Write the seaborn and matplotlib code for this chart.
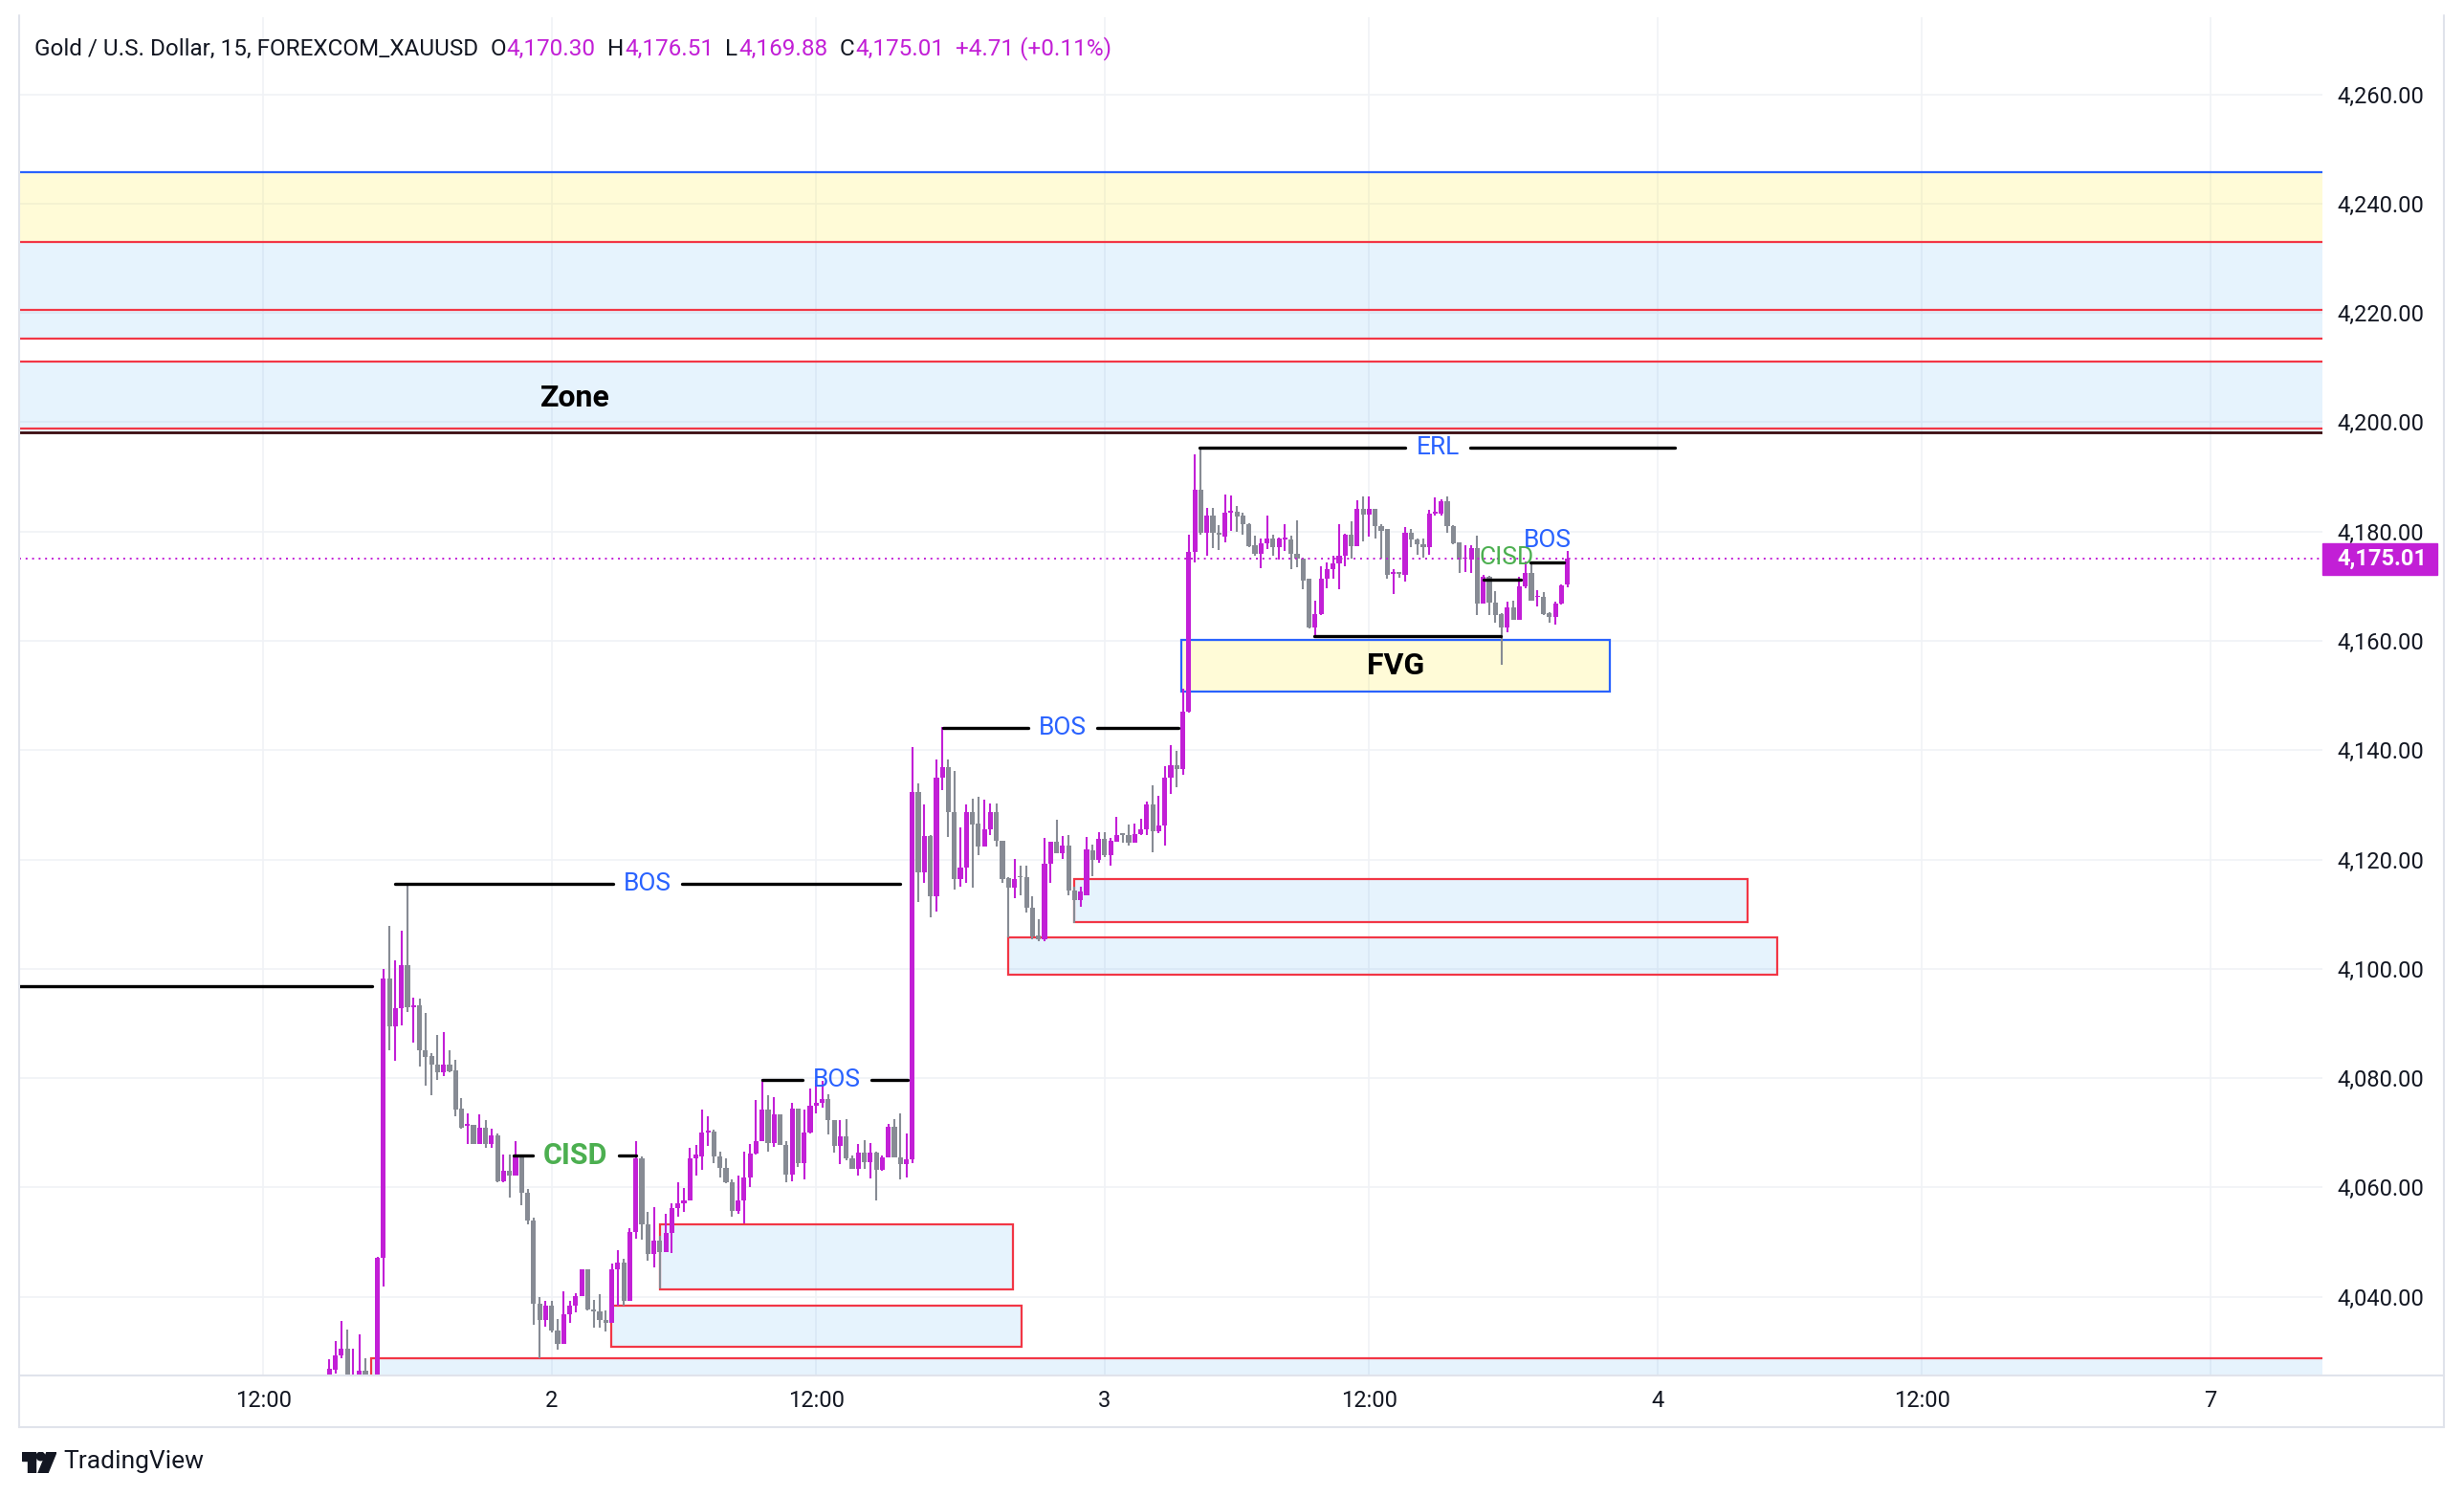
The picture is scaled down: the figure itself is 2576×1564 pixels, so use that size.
import matplotlib
matplotlib.use("Agg")
import matplotlib.pyplot as plt
import matplotlib.transforms as mtransforms
from matplotlib.lines import Line2D
from matplotlib.patches import Rectangle, Circle, Polygon
import numpy as np
import pandas as pd
import seaborn as sns

# ---- data (15 min bars, x = bar index, bar 0 = first bar of day "2") ----
FIRST_BAR = -37

opens = [
    4025.0, 4026.7, 4029.2, 4030.5, 4024.8, 4025.5, 4026.4, 4025.5, 4019.0, 4047.2,
    4098.2, 4089.5, 4092.8, 4100.6, 4093.0, 4093.4, 4085.1, 4084.0, 4082.5, 4081.0,
    4082.5, 4081.5, 4074.5, 4071.3, 4071.4, 4068.0, 4071.0, 4068.0, 4069.6, 4061.2,
    4063.1, 4062.2, 4065.7, 4059.0, 4053.9, 4038.7, 4035.8, 4038.4, 4033.9, 4031.3,
    4036.8, 4038.4, 4040.2, 4045.1, 4037.7, 4037.4, 4035.8, 4035.2, 4045.0, 4046.3,
    4039.3, 4051.9, 4065.3, 4053.2, 4047.8, 4050.3, 4048.1, 4051.7, 4056.2, 4057.1,
    4057.7, 4065.4, 4065.7, 4070.1, 4070.3, 4065.6, 4063.5, 4060.9, 4055.7, 4057.7,
    4061.9, 4066.2, 4068.5, 4074.3, 4068.2, 4073.3, 4067.8, 4062.4, 4074.5, 4064.5,
    4070.0, 4075.0, 4075.4, 4076.1, 4072.3, 4067.6, 4069.4, 4065.3, 4063.4, 4066.3,
    4064.7, 4066.3, 4063.2, 4065.5, 4071.1, 4065.5, 4064.3, 4065.2, 4132.4, 4117.6,
    4124.3, 4113.2, 4134.9, 4136.9, 4128.7, 4116.4, 4118.6, 4128.7, 4126.5, 4122.4,
    4125.5, 4128.6, 4123.4, 4116.6, 4114.8, 4117.0, 4116.7, 4111.1, 4106.1, 4105.4,
    4119.2, 4123.3, 4121.2, 4122.6, 4114.3, 4112.6, 4113.5, 4121.6, 4119.9, 4123.7,
    4120.8, 4123.3, 4124.7, 4124.5, 4123.1, 4124.7, 4125.6, 4130.0, 4125.1, 4126.2,
    4135.0, 4137.2, 4136.6, 4147.1, 4176.2, 4187.6, 4179.7, 4183.0, 4179.7, 4179.0,
    4183.5, 4183.6, 4182.9, 4181.4, 4177.5, 4175.9, 4177.8, 4178.7, 4177.2, 4178.6,
    4178.5, 4175.9, 4175.0, 4171.3, 4162.4, 4164.9, 4171.3, 4173.1, 4174.2, 4175.5,
    4179.4, 4177.3, 4184.1, 4183.1, 4184.1, 4181.0, 4180.4, 4172.3, 4172.4, 4172.0,
    4179.8, 4178.5, 4177.7, 4177.1, 4183.3, 4183.3, 4185.5, 4181.0, 4178.1, 4175.0,
    4174.8, 4176.9, 4166.8, 4171.7, 4167.0, 4164.9, 4162.4, 4166.2, 4163.8, 4169.9,
    4172.5, 4168.0, 4168.0, 4165.1, 4164.3, 4166.9, 4170.30,
]
highs = [
    4028.5, 4031.9, 4035.6, 4034.0, 4030.5, 4033.2, 4028.8, 4025.6, 4047.3, 4100.0,
    4107.9, 4101.6, 4107.0, 4115.6, 4094.7, 4094.6, 4092.0, 4084.5, 4087.9, 4088.5,
    4085.1, 4083.4, 4076.4, 4073.6, 4071.4, 4073.3, 4072.4, 4070.8, 4069.8, 4066.1,
    4066.1, 4068.4, 4065.7, 4059.7, 4054.5, 4039.9, 4039.2, 4039.2, 4035.9, 4041.0,
    4039.2, 4040.7, 4045.1, 4045.1, 4039.4, 4040.5, 4037.5, 4046.0, 4048.5, 4046.9,
    4052.6, 4068.5, 4065.7, 4055.5, 4056.4, 4051.2, 4055.1, 4057.1, 4061.0, 4059.9,
    4067.3, 4067.8, 4074.2, 4073.1, 4070.5, 4066.6, 4065.3, 4061.4, 4062.2, 4066.5,
    4068.0, 4076.0, 4079.8, 4076.8, 4076.6, 4073.3, 4068.5, 4075.5, 4074.5, 4074.3,
    4078.1, 4079.6, 4079.5, 4077.0, 4072.3, 4072.3, 4072.5, 4065.9, 4068.0, 4068.7,
    4068.2, 4066.5, 4065.9, 4071.7, 4072.5, 4073.6, 4069.8, 4140.5, 4133.9, 4130.0,
    4124.5, 4138.3, 4144.3, 4138.3, 4136.2, 4125.8, 4130.0, 4131.2, 4131.4, 4131.0,
    4130.2, 4130.3, 4123.4, 4116.7, 4120.1, 4118.8, 4118.8, 4113.2, 4109.0, 4123.9,
    4123.3, 4127.2, 4124.3, 4124.5, 4115.1, 4115.1, 4124.1, 4122.8, 4125.0, 4125.0,
    4124.0, 4127.8, 4124.7, 4126.4, 4126.6, 4127.5, 4130.6, 4133.5, 4131.7, 4137.1,
    4141.0, 4139.8, 4151.2, 4179.4, 4194.1, 4195.3, 4184.3, 4184.4, 4181.1, 4186.8,
    4186.6, 4184.7, 4183.5, 4181.6, 4179.2, 4178.7, 4182.9, 4179.5, 4178.9, 4181.3,
    4179.3, 4182.0, 4175.2, 4171.4, 4167.3, 4173.6, 4174.4, 4175.6, 4181.3, 4179.6,
    4181.9, 4185.8, 4186.4, 4186.4, 4184.2, 4181.3, 4180.4, 4173.2, 4172.5, 4180.8,
    4180.4, 4178.7, 4178.8, 4183.9, 4186.2, 4185.9, 4186.4, 4181.2, 4178.1, 4177.5,
    4177.5, 4179.2, 4172.0, 4171.9, 4169.1, 4165.0, 4167.1, 4167.4, 4171.7, 4174.6,
    4174.4, 4169.2, 4169.0, 4165.3, 4167.2, 4170.3, 4176.51,
]
lows = [
    4023.5, 4025.9, 4028.8, 4023.0, 4023.5, 4024.5, 4024.0, 4017.0, 4018.0, 4041.9,
    4085.1, 4083.2, 4089.6, 4092.1, 4086.5, 4082.1, 4078.6, 4076.8, 4079.6, 4080.4,
    4081.0, 4073.0, 4070.8, 4067.9, 4067.9, 4068.0, 4067.3, 4067.3, 4061.0, 4061.0,
    4058.1, 4062.1, 4056.8, 4053.2, 4034.9, 4028.8, 4034.6, 4033.4, 4030.4, 4031.3,
    4035.2, 4037.2, 4040.2, 4037.5, 4034.3, 4034.3, 4033.6, 4035.2, 4038.4, 4038.4,
    4039.3, 4050.7, 4050.5, 4046.6, 4045.4, 4041.6, 4048.1, 4048.0, 4054.6, 4055.5,
    4057.6, 4062.2, 4063.2, 4067.6, 4064.4, 4061.8, 4060.8, 4054.6, 4055.1, 4053.5,
    4060.0, 4066.1, 4068.5, 4066.5, 4067.4, 4067.8, 4060.9, 4061.2, 4063.8, 4061.4,
    4069.8, 4073.5, 4074.6, 4069.7, 4066.3, 4064.3, 4065.0, 4063.4, 4062.2, 4063.4,
    4061.7, 4057.7, 4063.0, 4065.5, 4065.5, 4061.5, 4061.8, 4064.5, 4112.3, 4115.7,
    4109.5, 4110.4, 4132.7, 4124.1, 4114.5, 4115.1, 4115.7, 4114.8, 4120.8, 4122.3,
    4124.5, 4122.3, 4115.7, 4105.8, 4112.9, 4113.5, 4110.3, 4105.4, 4105.0, 4105.0,
    4115.7, 4121.2, 4120.1, 4113.5, 4108.4, 4111.3, 4113.4, 4116.9, 4119.4, 4120.5,
    4118.9, 4123.3, 4123.0, 4122.6, 4123.0, 4124.5, 4124.5, 4121.4, 4124.8, 4122.6,
    4132.0, 4133.3, 4135.5, 4146.8, 4174.4, 4179.4, 4175.6, 4177.0, 4176.7, 4178.1,
    4180.1, 4180.0, 4179.5, 4177.2, 4175.5, 4173.3, 4176.8, 4175.5, 4174.8, 4176.5,
    4173.1, 4173.4, 4169.5, 4162.2, 4160.9, 4164.7, 4169.7, 4171.4, 4169.5, 4173.7,
    4175.0, 4177.3, 4178.2, 4179.0, 4178.7, 4175.1, 4171.4, 4168.6, 4171.5, 4170.9,
    4177.1, 4175.8, 4175.2, 4175.8, 4183.0, 4183.0, 4179.8, 4177.7, 4172.5, 4172.6,
    4172.5, 4164.7, 4166.8, 4164.7, 4163.3, 4155.7, 4161.5, 4163.8, 4163.8, 4169.7,
    4167.3, 4166.3, 4164.7, 4163.3, 4163.0, 4166.7, 4169.88,
]
closes = [
    4026.9, 4029.2, 4030.5, 4024.5, 4025.4, 4026.4, 4025.5, 4019.0, 4047.2, 4098.2,
    4089.5, 4092.8, 4100.6, 4093.0, 4093.4, 4085.1, 4083.8, 4082.5, 4081.0, 4082.5,
    4081.3, 4074.3, 4071.0, 4071.5, 4068.0, 4071.0, 4068.0, 4069.6, 4061.2, 4063.1,
    4062.2, 4065.7, 4059.0, 4053.9, 4038.7, 4035.8, 4038.4, 4033.9, 4031.3, 4036.8,
    4038.4, 4040.2, 4045.1, 4037.7, 4037.4, 4035.8, 4035.2, 4045.0, 4046.3, 4039.3,
    4051.9, 4065.3, 4053.2, 4047.8, 4050.3, 4048.1, 4051.7, 4056.2, 4057.1, 4057.7,
    4065.4, 4066.0, 4070.1, 4070.3, 4065.6, 4063.5, 4060.9, 4055.7, 4057.7, 4061.9,
    4066.2, 4068.5, 4074.3, 4068.2, 4073.3, 4067.8, 4062.4, 4074.5, 4064.5, 4070.0,
    4075.0, 4075.4, 4076.1, 4072.3, 4067.6, 4069.4, 4065.3, 4063.4, 4066.3, 4064.7,
    4066.3, 4063.2, 4065.5, 4071.1, 4065.5, 4064.3, 4065.2, 4132.4, 4117.6, 4124.3,
    4113.2, 4134.9, 4136.9, 4128.6, 4116.4, 4118.6, 4128.7, 4126.4, 4122.4, 4125.5,
    4128.6, 4123.4, 4116.4, 4114.8, 4116.4, 4116.7, 4111.1, 4106.0, 4105.4, 4119.2,
    4123.3, 4121.2, 4122.6, 4114.3, 4112.6, 4114.2, 4121.8, 4119.9, 4123.7, 4120.8,
    4123.4, 4124.5, 4124.5, 4123.1, 4124.7, 4125.6, 4130.0, 4125.1, 4126.2, 4135.0,
    4137.2, 4136.6, 4147.1, 4176.2, 4187.6, 4179.7, 4183.0, 4179.7, 4179.4, 4183.5,
    4183.7, 4182.7, 4181.4, 4177.3, 4175.9, 4177.8, 4178.7, 4177.2, 4178.8, 4178.9,
    4175.9, 4175.0, 4171.1, 4162.4, 4164.9, 4171.3, 4173.1, 4174.2, 4175.5, 4179.4,
    4177.3, 4184.1, 4183.1, 4184.1, 4181.0, 4180.2, 4172.0, 4172.4, 4172.3, 4179.8,
    4178.5, 4177.7, 4177.1, 4183.3, 4183.7, 4185.5, 4181.0, 4177.8, 4174.8, 4175.1,
    4176.9, 4166.8, 4171.7, 4167.0, 4164.7, 4162.4, 4166.2, 4163.8, 4169.9, 4172.5,
    4167.3, 4168.2, 4164.9, 4164.3, 4166.9, 4170.2, 4175.01,
]

time_tick_bars = [-48, 0, 44, 92, 136, 184, 228, 276]
time_tick_labels = ["12:00", "2", "12:00", "3", "12:00", "4", "12:00", "7"]
price_ticks = list(range(4040, 4261, 20))

# supply "Zone" bands across the whole chart
band_low = [4233.0, 4220.5, 4215.3, 4198.3]
band_high = [4245.7, 4233.0, 4220.5, 4211.1]
band_kind = ["yellow", "blue", "blue", "blue"]
band_edges = [4245.7, 4233.0, 4220.5, 4215.3, 4211.1, 4198.8]
band_edge_kind = ["blue", "red", "red", "red", "red", "red"]
zone_floor = 4198.1

# demand boxes (bar from, bar to, price low, price high)
box_left = [18.0, 9.9, 86.9, 75.9, -30.1]
box_right = [76.8, 78.1, 199.0, 203.9, 400.0]
box_low = [4041.4, 4030.8, 4108.5, 4098.9, 3990.0]
box_high = [4053.2, 4038.3, 4116.4, 4105.7, 4028.8]

fvg_left, fvg_right, fvg_low, fvg_high = 104.8, 176.0, 4150.7, 4160.2

# structure lines
line_level = [4096.9, 4115.6, 4144.1, 4079.7, 4065.9, 4195.3, 4160.8, 4171.2, 4174.3]
line_start = [-95.0, -26.1, 65.1, 35.0, -6.3, 107.7, 126.8, 155.1, 162.8]
line_end = [-29.8, 58.0, 104.3, 59.3, 14.1, 186.9, 157.9, 161.2, 168.4]
line_label = [None, "BOS", "BOS", "BOS", "CISD", "ERL", None, None, None]
line_label_x = [None, 16.0, 85.0, 47.4, 4.0, 147.4, None, None, None]

last_close = closes[-1]

df = pd.DataFrame({"bar": FIRST_BAR + np.arange(len(opens)),
                   "open": opens, "high": highs, "low": lows, "close": closes})
df["up"] = df["close"] >= df["open"]

# ---- style ----
UP = "#c21fd6"
DOWN = "#878b94"
RED = "#f23645"
BLUE = "#2962ff"
GREEN = "#4caf50"
TXT = "#131722"
GRID = "#f0f2f6"
FILL_BLUE = (33 / 255, 150 / 255, 243 / 255, 0.11)
FILL_YELLOW = (255 / 255, 235 / 255, 59 / 255, 0.2)
BORDER = "#e0e3eb"

sns.set_theme(style="white")
plt.rcParams["font.family"] = ["Roboto", "DejaVu Sans"]

W, H = 2576, 1564
fig = plt.figure(figsize=(W / 100, H / 100), dpi=100)
ax_l, ax_r, ax_t, ax_b = 20, 2428, 18, 1438
ax = fig.add_axes([ax_l / W, 1 - ax_b / H, (ax_r - ax_l) / W, (ax_b - ax_t) / H])
ax.set_xlim(-88.6, 294.6)
ax.set_ylim(4025.6, 4274.1)
for s in ax.spines.values():
    s.set_visible(False)

ax.set_yticks(price_ticks)
ax.set_yticklabels([f"{v:,.2f}" for v in price_ticks])
ax.yaxis.tick_right()
ax.set_xticks(time_tick_bars)
ax.set_xticklabels(time_tick_labels)
ax.tick_params(axis="y", length=0, pad=11, labelsize=17, labelcolor=TXT)
ax.tick_params(axis="x", length=0, pad=11, labelsize=17, labelcolor=TXT)
ax.grid(True, color=GRID, lw=1.2, zorder=0)
ax.set_axisbelow(True)

# zone bands
for lo, hi, kind in zip(band_low, band_high, band_kind):
    ax.axhspan(lo, hi, color=FILL_YELLOW if kind == "yellow" else FILL_BLUE, lw=0, zorder=1)
for lvl, kind in zip(band_edges, band_edge_kind):
    ax.axhline(lvl, color=BLUE if kind == "blue" else RED, lw=1.6, zorder=2)
ax.axhline(zone_floor, color="#3a0a0e", lw=2.0, zorder=2)

# boxes
for x0, x1, lo, hi in zip(box_left, box_right, box_low, box_high):
    ax.add_patch(Rectangle((x0, lo), x1 - x0, hi - lo, facecolor=FILL_BLUE,
                           edgecolor=RED, lw=1.6, zorder=2))
ax.add_patch(Rectangle((fvg_left, fvg_low), fvg_right - fvg_left, fvg_high - fvg_low,
                       facecolor=FILL_YELLOW, edgecolor=BLUE, lw=1.6, zorder=2))

# candles
colors = np.where(df["up"], UP, DOWN)
ax.vlines(df["bar"], df["low"], df["high"], colors=colors, lw=1.5, zorder=3)
body_lo = np.minimum(df["open"], df["close"])
body_h = np.maximum((df["close"] - df["open"]).abs(), 0.3)
ax.bar(df["bar"], body_h, bottom=body_lo, width=0.82, color=colors, lw=0, zorder=3)

# last price dotted line
ax.axhline(last_close, color=UP, lw=1.4, ls=(0, (1, 2.5)), zorder=3)

# structure lines with labels sitting in a gap
fig.canvas.draw()
renderer = fig.canvas.get_renderer()
px_per_bar = ax.get_window_extent().width / (ax.get_xlim()[1] - ax.get_xlim()[0])
line_kw = dict(color="black", lw=2.4, solid_capstyle="round", zorder=5)
for y, x0, x1, lab, xc in zip(line_level, line_start, line_end, line_label, line_label_x):
    if lab is None:
        ax.plot([x0, x1], [y, y], **line_kw)
        continue
    if lab == "CISD":
        t = ax.text(xc, y, lab, color=GREEN, fontsize=22, fontweight="bold",
                    ha="center", va="center", zorder=6)
    else:
        t = ax.text(xc, y, lab, color=BLUE, fontsize=19, ha="center", va="center", zorder=6)
    half = (t.get_window_extent(renderer).width / 2 + 11) / px_per_bar
    ax.plot([x0, xc - half], [y, y], **line_kw)
    ax.plot([xc + half, x1], [y, y], **line_kw)

ax.text(158.8, 4175.2, "CISD", color=GREEN, fontsize=19, ha="center", va="center", zorder=6)
ax.text(165.7, 4178.3, "BOS", color=BLUE, fontsize=19, ha="center", va="center", zorder=6)
ax.text((fvg_left + fvg_right) / 2, (fvg_low + fvg_high) / 2, "FVG", color="black",
        fontsize=23, fontweight="bold", ha="center", va="center", zorder=6)
ax.text(3.9, 4204.5, "Zone", color="black", fontsize=23, fontweight="bold",
        ha="center", va="center", zorder=6)

# last price tag on the price scale
trans = mtransforms.blended_transform_factory(ax.transAxes, ax.transData)
ax_w = ax_r - ax_l
tag_h = 33 / 5.714
ax.add_patch(Rectangle((1.0, last_close - tag_h / 2), 120 / ax_w, tag_h, transform=trans,
                       color=UP, clip_on=False, zorder=6))
ax.text(1.0 + 15 / ax_w, last_close, f"{last_close:,.2f}", transform=trans, color="white",
        fontsize=17, fontweight="bold", ha="left", va="center", zorder=7, clip_on=False)

# widget frame
def fig_line(x0, y0, x1, y1):
    fig.add_artist(Line2D([x0 / W, x1 / W], [1 - y0 / H, 1 - y1 / H], color=BORDER, lw=1.5))

fig_line(20, 16, 20, 1492)
fig_line(2555, 16, 2555, 1492)
fig_line(20, 1438, 2555, 1438)
fig_line(20, 1492, 2555, 1492)

# legend line at the top
header = [("Gold / U.S. Dollar, 15, FOREXCOM_XAUUSD", TXT, 0), ("O", TXT, 12),
          ("4,170.30", UP, 1), ("H", TXT, 12), ("4,176.51", UP, 1), ("L", TXT, 12),
          ("4,169.88", UP, 1), ("C", TXT, 12), ("4,175.01", UP, 1),
          ("+4.71 (+0.11%)", UP, 12)]
x = 36
for text, col, gap in header:
    x += gap
    t = fig.text(x / W, 1 - 51 / H, text, color=col, fontsize=17.5, ha="left", va="center")
    x += t.get_window_extent(renderer).width

# TradingView mark
lg = fig.add_axes([23 / W, 1 - 1540 / H, 36 / W, 22 / H])
lg.set_xlim(0, 36)
lg.set_ylim(0, 22)
lg.axis("off")
lg.add_patch(Rectangle((0, 13), 14, 9, color=TXT))
lg.add_patch(Rectangle((6, 0), 8, 14, color=TXT))
lg.add_patch(Circle((19.5, 17.5), 4.3, color=TXT))
lg.add_patch(Polygon([(26, 22), (36, 22), (27, 0), (17, 0)], color=TXT))
fig.text(66 / W, 1 - 1528 / H, "TradingView", color=TXT, fontsize=19, ha="left", va="center")

fig.savefig("out.png", dpi=100, facecolor="white")
